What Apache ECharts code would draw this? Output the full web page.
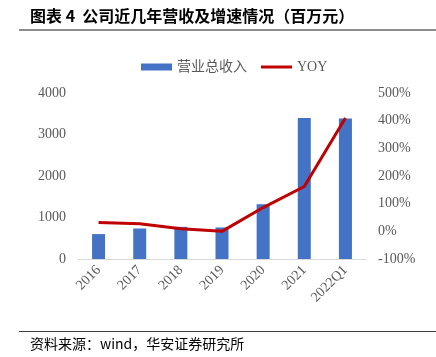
<!DOCTYPE html>
<html><head><meta charset="utf-8">
<script src="https://cdn.jsdelivr.net/npm/echarts@6/dist/echarts.min.js"></script>
<style>html,body{margin:0;padding:0;background:#fff}#c{width:436px;height:357px}</style>
</head><body><div id="c"></div>
<script>
const categories = ['2016','2017','2018','2019','2020','2021','2022Q1'];
const revenue = [600, 735, 775, 760, 1320, 3400, 3385];
const yoy = [32, 27, 9, 0, 86, 162, 410];
const leftTicks = {min: 0, max: 4000, interval: 1000};
const rightTicks = {min: -100, max: 500, interval: 100};

const chart = echarts.init(document.getElementById('c'));
const serif = '"Liberation Serif", "Noto Sans CJK SC", serif';
chart.setOption({
  animation: false,
  backgroundColor: '#fff',
  grid: {left: 78, right: 70, top: 93, bottom: 98},
  legend: {
    left: 136, top: 55, itemWidth: 31, itemHeight: 7, itemGap: 14,
    textStyle: {color: '#595959', fontSize: 14, fontFamily: serif},
    data: [{name: '营业总收入', icon: 'rect'}, {name: 'YOY', icon: 'path://M0,0 L31,0 L31,3 L0,3 Z'}]
  },
  xAxis: {
    type: 'category', data: categories,
    axisLine: {lineStyle: {color: '#d9d9d9'}},
    axisTick: {show: false},
    axisLabel: {rotate: 45, color: '#595959', fontSize: 14, fontFamily: serif, margin: 9}
  },
  yAxis: [
    {type: 'value', min: leftTicks.min, max: leftTicks.max, interval: leftTicks.interval,
     splitLine: {show: false}, axisLine: {show: false}, axisTick: {show: false},
     axisLabel: {color: '#595959', fontSize: 14, fontFamily: serif, margin: 12, formatter: v => String(v)}},
    {type: 'value', min: rightTicks.min, max: rightTicks.max, interval: rightTicks.interval,
     splitLine: {show: false}, axisLine: {show: false}, axisTick: {show: false},
     axisLabel: {color: '#595959', fontSize: 14, fontFamily: serif, margin: 12, formatter: '{value}%'}}
  ],
  series: [
    {name: '营业总收入', type: 'bar', data: revenue, barWidth: 13, yAxisIndex: 0,
     itemStyle: {color: '#4472C4'}},
    {name: 'YOY', type: 'line', data: yoy, yAxisIndex: 1, symbol: 'none',
     lineStyle: {color: '#C00000', width: 3}, itemStyle: {color: '#C00000'}}
  ],
  graphic: [
    {type: 'text', left: 30, top: 8, style: {text: '图表 4  公司近几年营收及增速情况（百万元）', font: 'bold 16px "Noto Sans CJK SC"', fill: '#000'}},
    {type: 'rect', shape: {x: 19, y: 29, width: 417, height: 2}, style: {fill: '#8c8c8c'}},
    {type: 'rect', shape: {x: 19, y: 331, width: 417, height: 1}, style: {fill: '#404040'}},
    {type: 'text', left: 30, top: 337, style: {text: '资料来源：wind，华安证券研究所', font: '14px "Noto Sans CJK SC"', fill: '#000'}}
  ]
});
</script></body></html>
